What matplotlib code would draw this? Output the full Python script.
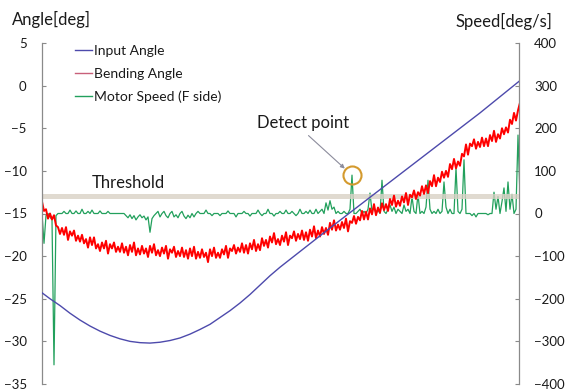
import matplotlib
matplotlib.use("Agg")
import matplotlib.pyplot as plt
from matplotlib.lines import Line2D

plt.rcParams['font.family'] = ['Lato', 'DejaVu Sans']

# ---------------- data (sample index 0..239) ----------------
bending_angle = [
    -13.6, -14.7, -14.5, -15.6, -15.0, -15.7, -15.2, -16.4, -16.6, -17.4,
    -16.7, -17.5, -16.6, -18.1, -17.1, -17.6, -17.0, -18.2, -17.6, -18.3,
    -17.5, -18.5, -18.0, -19.0, -17.8, -18.7, -17.8, -19.1, -18.6, -19.4,
    -18.4, -19.1, -18.2, -19.7, -18.6, -19.1, -18.4, -19.5, -18.9, -19.5,
    -18.5, -19.6, -18.9, -19.9, -18.7, -19.5, -18.4, -19.9, -19.1, -19.8,
    -18.8, -19.7, -19.1, -20.1, -18.8, -19.6, -18.6, -19.9, -19.3, -20.0,
    -19.0, -19.7, -18.8, -20.3, -19.2, -19.6, -18.9, -20.1, -19.4, -20.0,
    -19.0, -20.1, -19.3, -20.3, -19.1, -20.0, -18.9, -20.3, -19.5, -20.2,
    -19.2, -20.1, -19.6, -20.7, -19.2, -20.0, -19.0, -20.2, -19.6, -20.2,
    -19.2, -19.8, -18.8, -20.2, -19.1, -19.4, -18.7, -19.7, -19.0, -19.5,
    -18.5, -19.6, -18.7, -19.7, -18.5, -19.2, -18.1, -19.4, -18.6, -19.3,
    -17.9, -18.8, -18.1, -19.0, -17.7, -18.4, -17.3, -18.6, -18.0, -18.7,
    -17.6, -18.3, -17.2, -18.7, -17.6, -17.9, -17.1, -18.2, -17.4, -18.0,
    -17.0, -18.1, -17.2, -18.2, -16.9, -17.7, -16.5, -17.9, -17.0, -17.7,
    -16.6, -17.4, -16.7, -17.5, -16.1, -16.9, -15.8, -17.0, -16.3, -16.9,
    -16.0, -16.7, -15.6, -17.1, -15.9, -16.1, -15.3, -16.2, -15.4, -15.8,
    -14.7, -15.7, -14.8, -15.7, -14.4, -15.1, -13.9, -15.2, -14.3, -14.9,
    -13.8, -14.6, -13.9, -14.7, -13.3, -14.0, -12.9, -14.2, -13.5, -14.1,
    -13.0, -13.7, -12.6, -14.0, -12.8, -13.1, -12.3, -13.3, -12.5, -12.9,
    -11.8, -12.7, -11.7, -12.6, -11.2, -11.8, -10.5, -11.8, -10.8, -11.3,
    -10.1, -10.8, -10.0, -10.7, -9.2, -9.8, -8.6, -9.7, -8.9, -9.4,
    -8.0, -8.3, -6.9, -8.1, -6.8, -7.1, -6.3, -7.4, -6.6, -7.2,
    -6.1, -7.1, -6.2, -7.1, -5.8, -6.5, -5.3, -6.6, -5.7, -6.2,
    -5.0, -5.7, -4.9, -5.5, -4.0, -4.5, -3.2, -4.1, -2.9, -2.0,
]

motor_speed = [
    0, -70, -5, 0, -8, -15, -355, -5, 0, 0,
    0, 5, 0, 0, 8, 0, 0, 6, 0, 0,
    10, 0, 0, 5, 0, 8, 0, 0, 0, 6,
    0, 0, 0, 5, 0, 0, 0, 0, 0, 0,
    0, 0, -5, -10, -3, -12, -5, -15, -8, -3,
    -10, -6, -15, -8, -44, -12, -5, 0, 5, -8,
    0, 5, -5, -10, 0, 5, -8, -3, -10, 0,
    5, -6, -12, -4, -10, 0, -8, 0, 5, 0,
    0, 0, 8, 0, 0, -5, 0, 0, 0, -5,
    0, 0, 0, 6, 0, 0, 0, -8, 0, 0,
    0, 5, 0, 0, -6, 0, 0, 0, 8, 0,
    -5, 0, 0, 10, 0, 0, -6, 0, 0, 5,
    0, 0, 8, 0, 0, 5, 0, -5, 0, 10,
    0, 0, 5, 0, 8, 0, 0, 10, 0, 5,
    10, 0, 25, 8, 30, 10, 15, 0, 5, 0,
    0, 5, 0, 0, 10, 90, 0, 0, 5, 10,
    0, 5, 0, 10, 48, 5, 15, 0, 8, 0,
    78, 5, 0, 10, 20, 5, 15, 0, 10, 5,
    0, 20, 5, 10, 0, 39, 5, 0, 45, 0,
    5, 0, 15, 78, 10, 0, 5, 0, 10, 0,
    5, 74, 15, 0, 10, 0, 0, 107, 5, 0,
    10, 126, 0, 0, 0, -5, 0, -8, 0, 0,
    0, 0, 0, -3, 0, 0, 50, 10, 40, 0,
    28, 60, 5, 74, 10, 45, 0, 10, 184, 40,
]

input_t = [0, 4, 9, 14, 19, 24, 29, 34, 39, 44, 49, 54, 59, 64, 69, 74, 79,
           84, 89, 94, 99, 104, 109, 114, 119, 144, 169, 194, 219, 238.5]
input_angle = [-24.3, -25.0, -25.8, -26.7, -27.5, -28.2, -28.8, -29.3, -29.7,
               -30.0, -30.15, -30.2, -30.1, -29.9, -29.6, -29.15, -28.6, -28.0,
               -27.2, -26.4, -25.5, -24.5, -23.4, -22.3, -21.3, -16.7, -12.2,
               -7.7, -3.2, 0.5]

threshold = 40          # deg/s
detect_index = 155      # sample of the detect point

angle_ticks = [-35, -30, -25, -20, -15, -10, -5, 0, 5]
speed_ticks = [-400, -300, -200, -100, 0, 100, 200, 300, 400]

# ---------------- figure ----------------
W, H = 565, 392
fig = plt.figure(figsize=(W / 100, H / 100), dpi=100)
ax = fig.add_axes([42 / W, (H - 384) / H, 477 / W, 341 / H])
ax2 = ax.twinx()
ax.set_zorder(ax2.get_zorder() + 1)
ax.patch.set_visible(False)

C_BLUE = '#4d4aac'
C_RED = '#ff0000'
C_GREEN = '#22a05c'
C_SPINE = '#8a8a8a'

t = list(range(len(bending_angle)))

# secondary axis: motor speed and threshold band
ax2.plot(t, motor_speed, color=C_GREEN, lw=0.9)
ax2.axhline(threshold, color='#d9d1c5', lw=3.6, alpha=0.8, zorder=3)

# primary axis: angles
ax.plot(t, bending_angle, color=C_RED, lw=1.4, zorder=2)
ax.plot(input_t, input_angle, color=C_BLUE, lw=1.0, zorder=3)

ax.set_xlim(0, 238.5)
ax.set_ylim(-35, 5)
ax2.set_ylim(-400, 400)
ax.set_yticks(angle_ticks)
ax2.set_yticks(speed_ticks)
ax.set_xticks([])

for a in (ax, ax2):
    for s in ('top', 'bottom'):
        a.spines[s].set_visible(False)
    for s in ('left', 'right'):
        a.spines[s].set_color(C_SPINE)
        a.spines[s].set_linewidth(0.9)
    a.tick_params(axis='y', direction='in', length=3, width=0.8,
                  color=C_SPINE, pad=11, labelsize=9.5, labelcolor='#1a1a1a')
ax.spines['right'].set_visible(False)
ax2.spines['left'].set_visible(False)

# detect point marker and annotation
det_v = motor_speed[detect_index]
ax2.plot([detect_index], [det_v], marker='o', ms=13, mfc='none',
         mec='#d49a2e', mew=1.5, zorder=6)
ax2.annotate('Detect point', xy=(detect_index, det_v), xycoords='data',
             xytext=(-35, 34), textcoords='offset points',
             ha='center', va='baseline', fontsize=12, color='#1a1a1a',
             arrowprops=dict(arrowstyle='-|>', color='#8c8c9c', lw=0.8,
                             mutation_scale=6, shrinkA=2, shrinkB=7,
                             relpos=(0.5, 0.0)), zorder=7)

ax.text((92 - 42) / 477, (384 - 188) / 341, 'Threshold', transform=ax.transAxes,
        fontsize=12, color='#1a1a1a', ha='left', va='baseline')

fig.text(12 / W, (H - 25) / H, 'Angle[deg]', fontsize=12, color='#1a1a1a',
         ha='left', va='baseline')
fig.text(455 / W, (H - 27) / H, 'Speed[deg/s]', fontsize=12, color='#1a1a1a',
         ha='left', va='baseline')

handles = [Line2D([], [], color=C_BLUE, lw=1.0),
           Line2D([], [], color='#c8607a', lw=1.0),
           Line2D([], [], color=C_GREEN, lw=1.0)]
labels = ['Input Angle', 'Bending Angle', 'Motor Speed (F side)']
ax.legend(handles, labels, loc='upper left',
          bbox_to_anchor=((75 - 42) / 477, (384 - 45) / 341),
          frameon=False, fontsize=10, handlelength=1.25, handletextpad=0.15,
          labelspacing=0.78, borderpad=0, borderaxespad=0, labelcolor='#1a1a1a')

fig.savefig('out.png', dpi=100)
